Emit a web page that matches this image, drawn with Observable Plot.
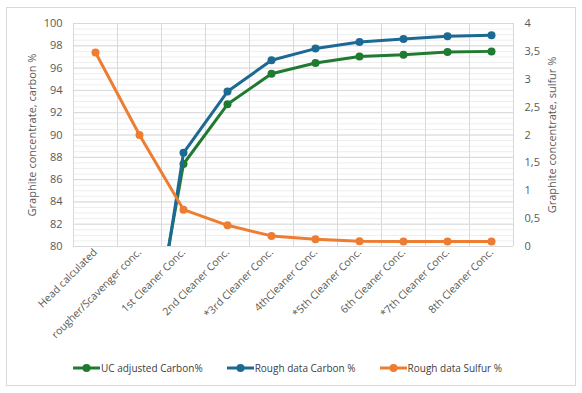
<!DOCTYPE html>
<html>
<head>
<meta charset="utf-8">
<script src="https://cdn.jsdelivr.net/npm/d3@7"></script>
<script src="https://cdn.jsdelivr.net/npm/@observablehq/plot@0.6"></script>
<style>
  html, body { margin: 0; padding: 0; background: #fff; }
  body { width: 582px; height: 393px; position: relative; overflow: hidden; font-family: "Open Sans", sans-serif; }
  #frame { position: absolute; left: 6px; top: 7px; width: 568px; height: 377px; border: 1px solid #d9d9d9; }
  #chart { position: absolute; left: 0; top: 0; }
  #legend { position: absolute; left: 73px; top: 361px; display: flex; align-items: center; font-size: 10px; color: #404040; white-space: nowrap; }
  .item { display: flex; align-items: center; margin-right: 24px; }
  .item svg { margin-right: 1px; }
</style>
</head>
<body>
<div id="frame"></div>
<div id="chart"></div>
<div id="legend"></div>
<script>
const categories = ["Head calculated", "rougher/Scavenger conc.", "1st Cleaner Conc.", "2nd Cleaner Conc.", "*3rd Cleaner Conc.", "4thCleaner Conc.", "*5th Cleaner Conc.", "6th Cleaner Conc.", "*7th Cleaner Conc.", "8th Cleaner Conc."];
const ucCarbon = [null, 65.5, 87.4, 92.75, 95.5, 96.45, 97.05, 97.2, 97.45, 97.5];
const roughCarbon = [null, 63, 88.4, 93.9, 96.7, 97.75, 98.35, 98.6, 98.85, 98.95];
const roughSulfur = [3.48, 2.0, 0.66, 0.38, 0.19, 0.13, 0.095, 0.09, 0.09, 0.09];
const seriesNames = ["UC adjusted Carbon%", "Rough data Carbon %", "Rough data Sulfur %"];
const colors = ["#217a31", "#1c6a94", "#ed7d31"];
const leftTicks = d3.range(80, 101, 2);
const rightTicks = [0, 0.5, 1, 1.5, 2, 2.5, 3, 3.5, 4];

// map sulfur (0–4) onto the carbon scale (80–100)
const s2c = s => 80 + s * 5;
const c2s = c => (c - 80) / 5;

const idx = d3.range(categories.length);
const uc = idx.map(i => ({i, v: ucCarbon[i]})).filter(d => d.v != null);
const rc = idx.map(i => ({i, v: roughCarbon[i]})).filter(d => d.v != null);
const rs = idx.map(i => ({i, v: s2c(roughSulfur[i])}));
const boundaries = d3.range(-0.5, categories.length, 1);
const minor = d3.range(80, 100.01, 0.5);

const fmt = v => String(v).replace(".", ",");

const plot = Plot.plot({
  width: 582,
  height: 355,
  marginLeft: 73,
  marginRight: 69,
  marginTop: 23,
  marginBottom: 109,
  style: {fontFamily: "Open Sans, sans-serif", fontSize: "10.5px", color: "#595959", background: "transparent"},
  x: {domain: [-0.5, categories.length - 0.5], axis: null},
  y: {domain: [80, 100], axis: null},
  marks: [
    Plot.ruleY(minor, {stroke: "#eeeeee", strokeWidth: 1}),
    Plot.ruleY(leftTicks, {stroke: "#d9d9d9", strokeWidth: 1}),
    Plot.ruleX(boundaries, {stroke: "#d9d9d9", strokeWidth: 1}),
    Plot.axisY({ticks: leftTicks, tickSize: 0, tickPadding: 11, fontSize: 11, tickFormat: d => d,
      label: "Graphite concentrate, carbon %", labelAnchor: "center", labelOffset: 45, labelArrow: "none"}),
    Plot.axisY({anchor: "right", ticks: rightTicks.map(s2c), tickSize: 0, tickPadding: 11, fontSize: 11,
      tickFormat: d => fmt(c2s(d)),
      label: "Graphite concentrate, sulfur %", labelAnchor: "center", labelOffset: 42, labelArrow: "none"}),
    Plot.axisX({ticks: idx, tickSize: 0, tickPadding: 4, tickRotate: -45, fontSize: 10.5,
      tickFormat: i => categories[i], label: null}),
    Plot.line(uc, {x: "i", y: "v", stroke: colors[0], strokeWidth: 3, clip: true}),
    Plot.dot(uc, {x: "i", y: "v", fill: colors[0], r: 4, clip: true}),
    Plot.line(rc, {x: "i", y: "v", stroke: colors[1], strokeWidth: 3, clip: true}),
    Plot.dot(rc, {x: "i", y: "v", fill: colors[1], r: 4, clip: true}),
    Plot.line(rs, {x: "i", y: "v", stroke: colors[2], strokeWidth: 3, clip: true}),
    Plot.dot(rs, {x: "i", y: "v", fill: colors[2], r: 4})
  ]
});
document.getElementById("chart").appendChild(plot);

const legend = document.getElementById("legend");
seriesNames.forEach((name, k) => {
  const item = document.createElement("div");
  item.className = "item";
  item.innerHTML = `<svg width="27" height="10"><line x1="0" y1="5" x2="27" y2="5" stroke="${colors[k]}" stroke-width="3"/><circle cx="13.5" cy="5" r="4" fill="${colors[k]}"/></svg><span>${name}</span>`;
  legend.appendChild(item);
});
</script>
</body>
</html>
